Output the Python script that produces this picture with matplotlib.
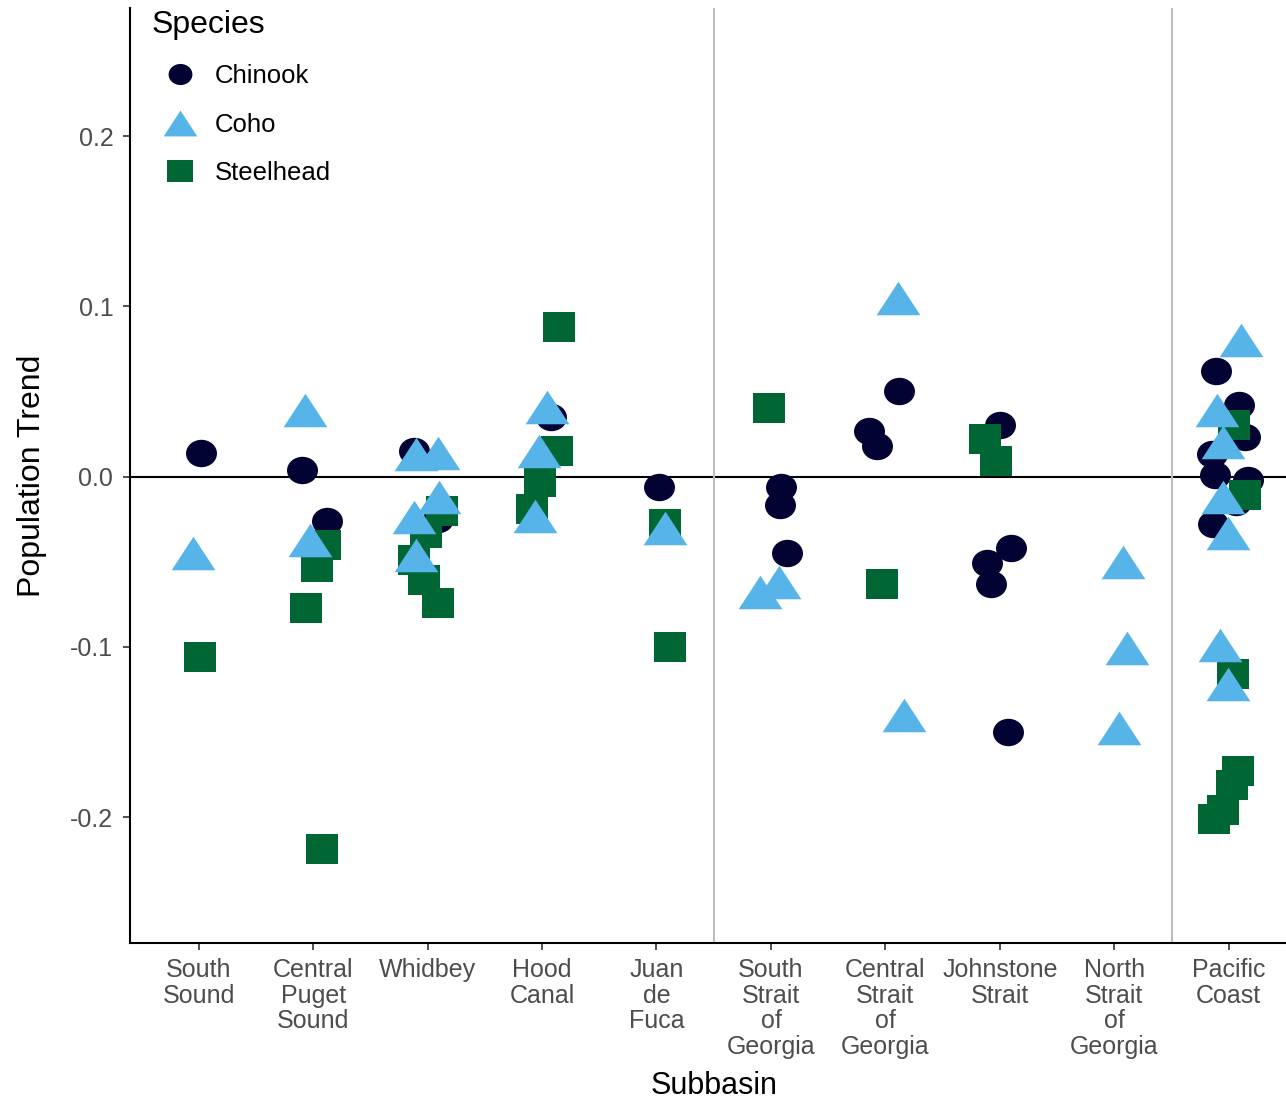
import matplotlib
matplotlib.use("Agg")
import matplotlib.pyplot as plt
from matplotlib.path import Path
from matplotlib.transforms import Affine2D
import numpy as np

plt.rcParams['font.family'] = ['Liberation Sans', 'DejaVu Sans']
plt.rcParams['axes.unicode_minus'] = False

subbasins = ["South\nSound", "Central\nPuget\nSound", "Whidbey", "Hood\nCanal",
             "Juan\nde\nFuca", "South\nStrait\nof\nGeorgia", "Central\nStrait\nof\nGeorgia",
             "Johnstone\nStrait", "North\nStrait\nof\nGeorgia", "Pacific\nCoast"]
species = ["Chinook", "Coho", "Steelhead"]
colors = {"Chinook": "#020233", "Coho": "#56B4E9", "Steelhead": "#006633"}

# (subbasin index 1..10, jitter offset, population trend)
chinook_basin = [1, 2, 2, 3, 3, 4, 5, 6, 6, 6, 7, 7, 7, 8, 8, 8, 8, 8,
                 10, 10, 10, 10, 10, 10, 10, 10]
chinook_jit = [0.02, -0.10, 0.12, -0.12, 0.09, 0.08, 0.02, 0.09, 0.08, 0.14,
               0.12, -0.14, -0.07, 0.0, 0.10, -0.11, -0.08, 0.07,
               -0.11, 0.09, 0.14, -0.15, -0.12, 0.17, 0.06, -0.14]
chinook_val = [0.014, 0.004, -0.026, 0.015, -0.025, 0.035, -0.006, -0.006, -0.017, -0.045,
               0.050, 0.027, 0.018, 0.030, -0.042, -0.051, -0.063, -0.150,
               0.062, 0.042, 0.023, 0.013, 0.001, -0.002, -0.015, -0.028]

coho_basin = [1, 2, 2, 3, 3, 3, 3, 3, 4, 4, 4, 5, 6, 6, 7, 7, 9, 9, 9,
              10, 10, 10, 10, 10, 10, 10]
coho_jit = [-0.05, -0.07, -0.03, -0.10, 0.09, 0.10, -0.12, -0.10, 0.04, -0.03, -0.06,
            0.07, -0.10, 0.07, 0.11, 0.16, 0.08, 0.11, 0.04,
            0.11, -0.10, -0.05, -0.05, -0.01, -0.08, -0.01]
coho_val = [-0.045, 0.039, -0.037, 0.013, 0.014, -0.012, -0.024, -0.046, 0.041, 0.015, -0.023,
            -0.030, -0.068, -0.062, 0.105, -0.140, -0.050, -0.101, -0.148,
            0.080, 0.039, 0.020, -0.012, -0.033, -0.099, -0.122]

steel_basin = [1, 2, 2, 2, 2, 3, 3, 3, 3, 3, 4, 4, 4, 4, 5, 5, 6, 7, 8, 8,
               10, 10, 10, 10, 10, 10, 10]
steel_jit = [0.01, 0.08, -0.06, 0.03, 0.10, 0.13, -0.01, -0.12, -0.03, 0.09,
             0.15, 0.13, -0.02, -0.09, 0.07, 0.12, -0.02, -0.03, -0.13, -0.03,
             0.05, 0.14, 0.04, 0.08, 0.03, -0.05, -0.13]
steel_val = [-0.106, -0.219, -0.077, -0.053, -0.040, -0.020, -0.033, -0.049, -0.061, -0.074,
             0.088, 0.015, -0.003, -0.019, -0.028, -0.100, 0.040, -0.063, 0.022, 0.009,
             0.030, -0.011, -0.116, -0.173, -0.181, -0.196, -0.201]

yticks = [-0.2, -0.1, 0.0, 0.1, 0.2]
ytick_labels = ["-0.2", "-0.1", "0.0", "0.1", "0.2"]
region_breaks = [5.5, 9.5]

# markers, slightly wider than tall as in the reference
st = 1.13
circle_m = Path.unit_circle().transformed(Affine2D().scale(st, 1.0))
tri_m = Path([(-0.577 * st, -0.5), (0.577 * st, -0.5), (0.0, 0.5), (-0.577 * st, -0.5)],
             [Path.MOVETO, Path.LINETO, Path.LINETO, Path.CLOSEPOLY])
sq_m = Path([(-0.55, -0.5), (0.55, -0.5), (0.55, 0.5), (-0.55, 0.5), (-0.55, -0.5)],
            [Path.MOVETO, Path.LINETO, Path.LINETO, Path.LINETO, Path.CLOSEPOLY])

fig = plt.figure(figsize=(12.86, 11.01), dpi=100)
ax = fig.add_axes([130 / 1286, 1 - 943 / 1101, 1 - 130 / 1286, (943 - 8) / 1101])

ax.axhline(0, color="black", lw=1.5, zorder=1)
for b in region_breaks:
    ax.axvline(b, color="#BEBEBE", lw=1.5, zorder=1)

series = [
    ("Chinook", chinook_basin, chinook_jit, chinook_val, circle_m, 22.3, 2),
    ("Steelhead", steel_basin, steel_jit, steel_val, sq_m, 23.5, 3),
    ("Coho", coho_basin, coho_jit, coho_val, tri_m, 31.5, 4),
]
handles = {}
for name, b, j, v, m, ms, z in series:
    x = np.array(b, dtype=float) + np.array(j)
    h, = ax.plot(x, v, linestyle="none", marker=m, markersize=ms, markeredgewidth=0,
                 color=colors[name], zorder=z, label=name)
    handles[name] = h

ax.set_xlim(0.4, 10.5)
ax.set_ylim(-0.274, 0.2752)
ax.set_xticks(range(1, 11))
ax.set_xticklabels(subbasins, fontsize=18, color="#4D4D4D", linespacing=1.08)
ax.set_yticks(yticks)
ax.set_yticklabels(ytick_labels, fontsize=18, color="#4D4D4D")
ax.tick_params(axis="both", length=5, width=1.2, color="#333333")
ax.tick_params(axis="x", pad=6)
ax.tick_params(axis="y", pad=7)

for s in ["top", "right"]:
    ax.spines[s].set_visible(False)
for s in ["left", "bottom"]:
    ax.spines[s].set_linewidth(1.5)
    ax.spines[s].set_color("black")

ax.set_xlabel("Subbasin", fontsize=22)
ax.set_ylabel("Population Trend", fontsize=23)
ax.xaxis.set_label_coords(0.505, -0.137)
ax.yaxis.set_label_coords(-0.0715, 0.5)

leg = ax.legend([handles[s] for s in species], species, title="Species",
                loc="upper left", bbox_to_anchor=(152 / 1286, 1 - 10 / 1101),
                bbox_transform=fig.transFigure, frameon=False, fontsize=18.5,
                title_fontsize=23, markerscale=0.77, borderpad=0, borderaxespad=0,
                handlelength=2.2, handletextpad=0.25, labelspacing=0.95,
                alignment="left")

fig.savefig("out.png", dpi=100)
